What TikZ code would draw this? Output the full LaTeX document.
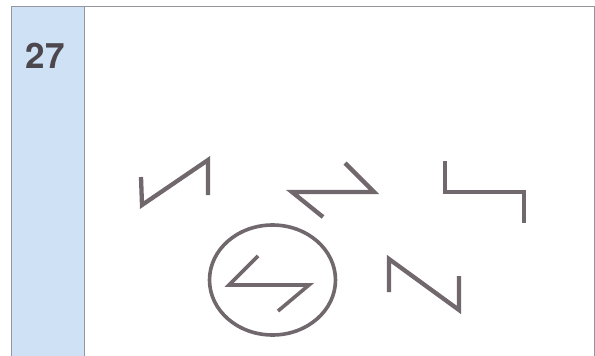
\documentclass[tikz,border=0pt]{standalone}
\usepackage{fontspec}
\setsansfont{TeX Gyre Heros}
\usetikzlibrary{positioning}
\definecolor{stripblue}{RGB}{207,225,245}
\definecolor{framegray}{RGB}{150,150,160}
\definecolor{signgray}{RGB}{112,104,108}
\definecolor{numgray}{RGB}{75,71,76}
\begin{document}
\begin{tikzpicture}[x=1pt, y=-1pt,
    sign/.style={draw=signgray, line width=4.3pt, line join=miter, line cap=butt}]
    \useasboundingbox (0,0) rectangle (595,356);
    % frame and number strip
    \fill[stripblue] (11,6) rectangle (84,356);
    \draw[framegray, line width=0.8pt] (11,356) -- (11,6) -- (594,6) -- (594,356);
    \draw[framegray, line width=0.8pt] (84,6) -- (84,356);
    \node[text=numgray, font=\sffamily\bfseries\fontsize{35}{35}\selectfont] (num) at (45,56) {27};
    % signs
    \draw[sign] (141,177) -- (142,205) -- (208,160) -- (208,195);
    \draw[sign] (345,163) -- (374,192) -- (292,192) -- (323,217);
    \draw[sign] (445,161) -- (445,192) -- (524,192) -- (524,223);
    \draw[sign] (389,292) -- (389,259) -- (459,310) -- (459,276);
    \draw[sign, line width=3.6pt] (272.5,280) ellipse [x radius=63, y radius=55];
    \draw[sign, line width=3.6pt] (258,256) -- (229,285) -- (309,285) -- (278,311);
\end{tikzpicture}
\end{document}
